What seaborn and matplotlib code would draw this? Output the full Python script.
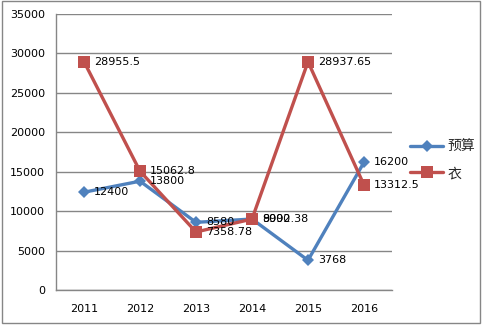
import matplotlib
matplotlib.use("Agg")
import matplotlib.pyplot as plt
import seaborn as sns
import pandas as pd
from matplotlib.patches import Rectangle

years = ["2011", "2012", "2013", "2014", "2015", "2016"]
budget = [12400, 13800, 8580, 9000, 3768, 16200]
clothing = [28955.5, 15062.8, 7358.78, 8992.38, 28937.65, 13312.5]
budget_labels = ["12400", "13800", "8580", "9000", "3768", "16200"]
clothing_labels = ["28955.5", "15062.8", "7358.78", "8992.38", "28937.65", "13312.5"]
series_names = ["预算", "衣"]
y_ticks = [0, 5000, 10000, 15000, 20000, 25000, 30000, 35000]

sns.set_theme(style="white")
plt.rcParams["font.family"] = ["Noto Sans CJK SC", "DejaVu Sans"]

W, H = 483, 326
fig = plt.figure(figsize=(W / 100, H / 100), dpi=100)
ax = fig.add_axes([56 / W, (H - 290) / H, (392 - 56) / W, (290 - 14) / H])

idx = list(range(len(years)))
df = pd.DataFrame({"x": idx, "budget": budget, "clothing": clothing})

blue = "#4F81BD"
red = "#C0504D"

sns.lineplot(data=df, x="x", y="budget", ax=ax, color=blue, lw=2.4,
             marker="D", markersize=6, markeredgewidth=0, label=series_names[0],
             zorder=3)
sns.lineplot(data=df, x="x", y="clothing", ax=ax, color=red, lw=2.4,
             marker="s", markersize=8, markeredgewidth=0, label=series_names[1],
             zorder=3)

for xi, v, t in zip(idx, budget, budget_labels):
    ax.annotate(t, (xi, v), xytext=(10, 0), textcoords="offset pixels",
                ha="left", va="center", fontsize=8, color="black",
                family="DejaVu Sans", zorder=5)
for xi, v, t in zip(idx, clothing, clothing_labels):
    ax.annotate(t, (xi, v), xytext=(10, 0), textcoords="offset pixels",
                ha="left", va="center", fontsize=8, color="black",
                family="DejaVu Sans", zorder=5)

ax.set_xlim(-0.5, len(years) - 0.5)
ax.set_ylim(0, 35000)
ax.set_xticks(idx)
ax.set_xticklabels(years)
ax.set_yticks(y_ticks)
ax.set_yticklabels([str(v) for v in y_ticks])
ax.set_xlabel("")
ax.set_ylabel("")
ax.tick_params(axis="both", length=0, labelsize=8, colors="black")
ax.tick_params(axis="x", pad=10)
ax.tick_params(axis="y", pad=8)
for lbl in ax.get_xticklabels() + ax.get_yticklabels():
    lbl.set_family("DejaVu Sans")

ax.yaxis.grid(True, color="#868686", lw=1)
ax.xaxis.grid(False)
for side in ["top", "right"]:
    ax.spines[side].set_visible(False)
for side in ["left", "bottom"]:
    ax.spines[side].set_color("#868686")
    ax.spines[side].set_linewidth(1)

leg = ax.legend(loc="center left", bbox_to_anchor=(410 / W, (H - 160) / H),
                bbox_transform=fig.transFigure, frameon=False,
                prop={"family": ["Noto Sans CJK SC", "DejaVu Sans"], "size": 10},
                handlelength=2.4, handletextpad=0.3, labelspacing=0.9,
                borderaxespad=0, borderpad=0)

fig.patches.append(Rectangle((1.5 / W, 1 - 323 / H), (480 - 1.5) / W, 322 / H,
                             transform=fig.transFigure, fill=False,
                             edgecolor="#868686", lw=1))

fig.savefig("out.png", dpi=100)
